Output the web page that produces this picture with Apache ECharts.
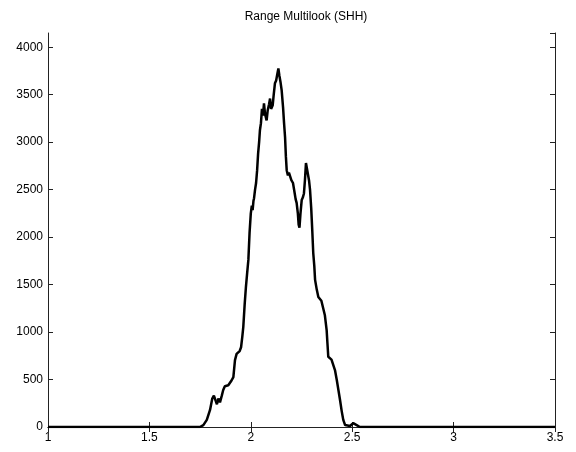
<!DOCTYPE html>
<html>
<head>
<meta charset="utf-8">
<script src="https://cdn.jsdelivr.net/npm/echarts@6/dist/echarts.min.js"></script>
<style>
html,body{margin:0;padding:0;background:#fff;}
#main{width:576px;height:452px;}
</style>
</head>
<body>
<div id="main"></div>
<script>
// range bins (x) and multilook values (y)
var rangeX = [1.0, 1.749, 1.766, 1.783, 1.799, 1.81, 1.818, 1.826, 1.833, 1.84, 1.848, 1.857, 1.864, 1.872, 1.881, 1.889,
  1.897, 1.905, 1.914, 1.922, 1.93, 1.938, 1.945, 1.952, 1.958, 1.963, 1.97, 1.976, 1.982, 1.988, 1.994, 2.0,
  2.005, 2.009, 2.013, 2.016, 2.021, 2.026, 2.031, 2.036, 2.041, 2.045, 2.05, 2.055, 2.06, 2.065, 2.07, 2.078,
  2.083, 2.09, 2.095, 2.1, 2.108, 2.113, 2.119, 2.125, 2.131, 2.136, 2.141, 2.146, 2.152, 2.159, 2.164, 2.169,
  2.173, 2.177, 2.183, 2.188, 2.193, 2.2, 2.208, 2.215, 2.221, 2.226, 2.232, 2.236, 2.24, 2.245, 2.251, 2.257,
  2.262, 2.267, 2.272, 2.277, 2.281, 2.287, 2.292, 2.298, 2.303, 2.308, 2.313, 2.317, 2.325, 2.333, 2.34, 2.348,
  2.357, 2.365, 2.374, 2.378, 2.382, 2.39, 2.398, 2.407, 2.415, 2.424, 2.432, 2.44, 2.448, 2.456, 2.465, 2.473,
  2.489, 2.505, 2.514, 2.522, 2.538, 3.5];
var multilook = [0, 0, 20, 75, 180, 300, 330, 280, 240, 300, 260, 330, 390, 430, 420, 440,
  460, 490, 525, 705, 770, 790, 800, 840, 950, 1055, 1300, 1475, 1620, 1760, 2050, 2250,
  2330, 2285, 2380, 2410, 2500, 2570, 2700, 2880, 3000, 3126, 3200, 3350, 3280, 3410, 3300, 3230,
  3330, 3400, 3460, 3350, 3390, 3500, 3620, 3650, 3720, 3776, 3700, 3640, 3550, 3370, 3200, 3050,
  2850, 2705, 2650, 2680, 2670, 2600, 2570, 2480, 2400, 2360, 2250, 2130, 2100, 2250, 2390, 2420,
  2460, 2600, 2780, 2720, 2740, 2600, 2500, 2300, 2075, 1830, 1700, 1550, 1450, 1370, 1350, 1330,
  1340, 1180, 1020, 880, 740, 720, 710, 705, 600, 495, 390, 285, 170, 75, 20, 0,
  10, 40, 30, 20, 0, 0];
var xMin = 1, xMax = 3.5, xStep = 0.5;
var yMin = 0, yMax = 4150, yStep = 500;

var seriesData = rangeX.map(function(x, i){ return [x, multilook[i]]; });

var axisColor = '#222';
var labelFont = {color:'#000', fontSize:12, fontFamily:'Liberation Sans, Arial, sans-serif'};

var myChart = echarts.init(document.getElementById('main'));
var option = {
  animation: false,
  title: {
    text: 'Range Multilook (SHH)',
    left: 301,
    textAlign: 'center',
    top: 6,
    textStyle: {color:'#000', fontSize:12, fontWeight:'normal', fontFamily:'Liberation Sans, Arial, sans-serif'}
  },
  grid: {left: 48, right: 21, top: 33, bottom: 25},
  xAxis: [
    {
      type: 'value', min: xMin, max: xMax, interval: xStep, position: 'bottom',
      axisLine: {show: true, onZero: false, lineStyle: {color: axisColor, width: 1}},
      axisTick: {show: true, inside: true, length: 5, lineStyle: {color: axisColor}},
      axisLabel: Object.assign({margin: 5, formatter: function(v){ return String(v); }}, labelFont),
      splitLine: {show: false}
    },
    {
      type: 'value', min: xMin, max: xMax, interval: xStep, position: 'top',
      axisLine: {show: true, lineStyle: {color: axisColor, width: 1}},
      axisTick: {show: true, inside: true, length: 5, lineStyle: {color: axisColor}},
      axisLabel: {show: false},
      splitLine: {show: false}
    }
  ],
  yAxis: [
    {
      type: 'value', min: yMin, max: yMax, interval: yStep, position: 'left',
      axisLine: {show: true, onZero: false, lineStyle: {color: axisColor, width: 1}},
      axisTick: {show: true, inside: true, length: 5, lineStyle: {color: axisColor}},
      axisLabel: Object.assign({margin: 5, showMaxLabel: false, formatter: function(v){ return String(v); }}, labelFont),
      splitLine: {show: false}
    },
    {
      type: 'value', min: yMin, max: yMax, interval: yStep, position: 'right',
      axisLine: {show: true, lineStyle: {color: axisColor, width: 1}},
      axisTick: {show: true, inside: true, length: 5, lineStyle: {color: axisColor}},
      axisLabel: {show: false},
      splitLine: {show: false}
    }
  ],
  series: [
    {
      name: 'SHH',
      type: 'line',
      xAxisIndex: 0,
      yAxisIndex: 0,
      showSymbol: false,
      smooth: false,
      lineStyle: {color: '#000', width: 2.5},
      data: seriesData
    }
  ]
};
myChart.setOption(option);
</script>
</body>
</html>
